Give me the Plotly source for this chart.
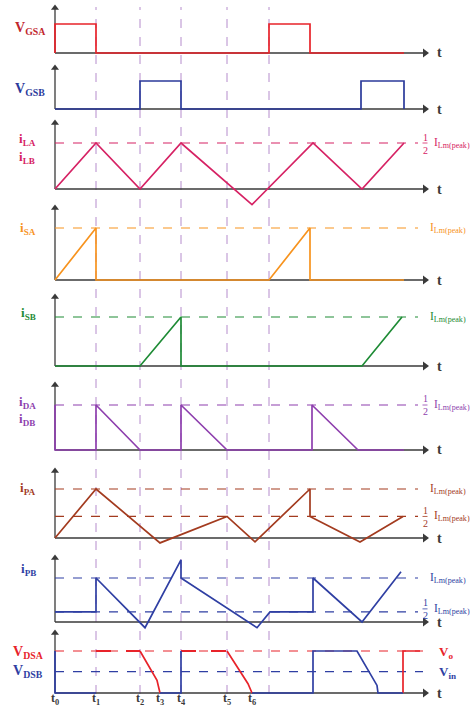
import plotly.graph_objects as go

# ---------------- data ----------------
# gate signals
t_gsa = [0, 0, 41, 41, 214, 214, 255, 255, 349]
v_gsa = [0, 1, 1, 0, 0, 1, 1, 0, 0]
t_gsb = [0, 85, 85, 126, 126, 306, 306, 349, 349]
v_gsb = [0, 0, 1, 1, 0, 0, 1, 1, 0]
# inductor current (units of 1/2 ILm(peak))
t_il = [0, 41, 85, 126, 197, 258, 307, 349]
i_l = [0, 1, 0, 1, -0.34, 1, 0, 1]
# switch currents
t_sa = [0, 41, 41, 214, 255, 255, 349]
i_sa = [0, 1, 0, 0, 1, 0, 0]
t_sb = [0, 85, 126, 126, 307, 347]
i_sb = [0, 0, 1, 0, 0, 1]
# diode currents
t_d = [0, 0, 41, 41, 85, 126, 126, 172, 257, 257, 303, 349]
i_d = [1, 0, 0, 1, 0, 0, 1, 0, 0, 1, 0, 0]
# primary currents
t_pa = [0, 41, 105, 172, 200, 255, 255, 305, 348]
i_pa = [0, 1, -0.1, 0.44, -0.08, 1, 0.44, -0.08, 0.44]
pa_half = 0.44
t_pb = [0, 41, 41, 90, 126, 126, 202, 215, 258, 258, 307, 346]
i_pb = [0.23, 0.23, 1, -0.13, 1.41, 1, -0.13, 0.23, 0.23, 1, 0, 1.14]
pb_half = 0.23
# drain-source voltages (units of Vo)
v_in = 0.51
dsa_on1_t, dsa_on1_v = [41, 85], [1, 1]
dsa_on2_t, dsa_on2_v = [126, 172], [1, 1]
dsa_f1_t, dsa_f1_v = [85, 102, 105], [1, 0.3, 0]
dsa_f2_t, dsa_f2_v = [172, 193, 197], [1, 0.22, 0]
dsa_r_t, dsa_r_v = [348, 348, 365], [0, 1, 1]
dsb1_t, dsb1_v = [0, 0, 41], [1, 0, 0]
dsb2_t, dsb2_v = [105, 126, 126], [0, 0, 1]
dsb3_t, dsb3_v = [197, 258, 258, 302, 322, 323, 348], [0, 0, 1, 1, 0.18, 0, 0]

t_marks = [41, 85, 126, 172, 214]
t_tick_vals = [0, 41, 85, 105, 126, 172, 197]
t_tick_text = ["t<sub>0</sub>", "t<sub>1</sub>", "t<sub>2</sub>", "t<sub>3</sub>",
               "t<sub>4</sub>", "t<sub>5</sub>", "t<sub>6</sub>"]
ref_end = 363
axis_end = 368

# ---------------- layout geometry ----------------
W, H = 470, 707
X0 = 55  # pixel of t0
panels = [
    dict(tip=8, one=24, base=53, bot=58),
    dict(tip=68, one=81, base=109, bot=114),
    dict(tip=123, one=143, base=189, bot=208),
    dict(tip=208, one=228, base=280, bot=285),
    dict(tip=297, one=317, base=366, bot=371),
    dict(tip=385, one=405, base=450, bot=455),
    dict(tip=471, one=489, base=538, bot=546),
    dict(tip=558, one=578, base=622, bot=631),
    dict(tip=633, one=651, base=693, bot=698),
]

RED = "#e8232a"
NAVY = "#2b3a9b"
PINK = "#d62264"
ORANGE = "#f7931e"
GREEN = "#1e8b35"
PURPLE = "#8e3fae"
BROWN = "#a33b1f"
BLUE = "#2f3fa3"
VLINE = "#b58ccc"
AX = "#3a3a3a"
SERIF = "Liberation Serif"

fig = go.Figure()
layout = dict(width=W, height=H, margin=dict(l=0, r=0, t=0, b=0),
              paper_bgcolor="white", plot_bgcolor="rgba(0,0,0,0)", showlegend=False)
annotations = []
shapes = []

def ax_names(k):
    return ("x" if k == 1 else f"x{k}"), ("y" if k == 1 else f"y{k}")

def line(k, x, y, color, width=1.7, dash="solid"):
    xn, yn = ax_names(k)
    fig.add_trace(go.Scatter(x=x, y=y, mode="lines", xaxis=xn, yaxis=yn, hoverinfo="skip",
                             line=dict(color=color, width=width, dash=dash)))

# vertical time markers
for tm in t_marks:
    shapes.append(dict(type="line", xref="x", yref="paper", x0=tm, x1=tm,
                       y0=1 - 694 / H, y1=1 - 7 / H, layer="below",
                       line=dict(color=VLINE, width=1, dash="dash")))

for k, p in enumerate(panels, start=1):
    s = p["base"] - p["one"]
    top = p["tip"] - 4
    rng = [(p["base"] - p["bot"]) / s, (p["base"] - top) / s]
    xn, yn = ax_names(k)
    xkey = "xaxis" if k == 1 else f"xaxis{k}"
    ykey = "yaxis" if k == 1 else f"yaxis{k}"
    layout[xkey] = dict(domain=[0, 1], range=[-X0, W - X0], visible=False, anchor=yn, fixedrange=True)
    layout[ykey] = dict(domain=[1 - p["bot"] / H, 1 - top / H], range=rng, visible=False,
                        anchor=xn, fixedrange=True)
    tipv = (p["base"] - p["tip"]) / s
    # axes with arrow heads
    fig.add_trace(go.Scatter(x=[0, axis_end], y=[0, 0], mode="lines", xaxis=xn, yaxis=yn,
                             hoverinfo="skip", line=dict(color=AX, width=1.3)))
    fig.add_trace(go.Scatter(x=[axis_end + 2], y=[0], mode="markers", xaxis=xn, yaxis=yn,
                             hoverinfo="skip", cliponaxis=False,
                             marker=dict(symbol="triangle-right", size=8, color=AX)))
    fig.add_trace(go.Scatter(x=[0, 0], y=[0, tipv], mode="lines", xaxis=xn, yaxis=yn,
                             hoverinfo="skip", cliponaxis=False, line=dict(color=AX, width=1.3)))
    fig.add_trace(go.Scatter(x=[0], y=[tipv], mode="markers", xaxis=xn, yaxis=yn,
                             hoverinfo="skip", cliponaxis=False,
                             marker=dict(symbol="triangle-up", size=7, color=AX)))
    annotations.append(dict(x=axis_end + 12, y=0, xref=xn, yref=yn, text="<b>t</b>", showarrow=False,
                            xanchor="left", yanchor="middle",
                            font=dict(family=SERIF, size=14, color=AX)))

def ref(k, level, color):
    line(k, [0, ref_end], [level, level], color, width=1.2, dash="dash")

# panel 1, 2
line(1, t_gsa, v_gsa, RED)
line(2, t_gsb, v_gsb, NAVY)
# panel 3
ref(3, 1, PINK)
line(3, t_il, i_l, PINK)
# panel 4
ref(4, 1, ORANGE)
line(4, t_sa, i_sa, ORANGE)
# panel 5
ref(5, 1, GREEN)
line(5, t_sb, i_sb, GREEN)
# panel 6
ref(6, 1, PURPLE)
line(6, t_d, i_d, PURPLE)
# panel 7
ref(7, 1, BROWN)
ref(7, pa_half, BROWN)
line(7, t_pa, i_pa, BROWN)
# panel 8
ref(8, 1, BLUE)
ref(8, pb_half, BLUE)
line(8, t_pb, i_pb, BLUE)
# panel 9
line(9, [0, 368], [1, 1], RED, width=1.2, dash="dash")
line(9, [0, 368], [v_in, v_in], BLUE, width=1.2, dash="dash")
line(9, dsa_on1_t, dsa_on1_v, RED, width=2, dash="longdash")
line(9, dsa_on2_t, dsa_on2_v, RED, width=2, dash="longdash")
line(9, dsa_f1_t, dsa_f1_v, RED)
line(9, dsa_f2_t, dsa_f2_v, RED)
line(9, dsa_r_t, dsa_r_v, RED)
line(9, dsb1_t, dsb1_v, BLUE)
line(9, dsb2_t, dsb2_v, BLUE)
line(9, dsb3_t, dsb3_v, BLUE)

# ---------------- labels ----------------
def ptext(px, py, text, color, size=13, bold=True, xanchor="center"):
    annotations.append(dict(x=px / W, y=1 - py / H, xref="paper", yref="paper", text=
                            (f"<b>{text}</b>" if bold else text), showarrow=False,
                            xanchor=xanchor, yanchor="middle",
                            font=dict(family=SERIF, size=size, color=color)))

ptext(30, 29, "V<sub>GSA</sub>", "#c1272d", 14)
ptext(30, 89, "V<sub>GSB</sub>", NAVY, 14)
ptext(27, 139, "i<sub>LA</sub>", PINK)
ptext(27, 157, "i<sub>LB</sub>", PINK)
ptext(28, 229, "i<sub>SA</sub>", ORANGE)
ptext(28, 313, "i<sub>SB</sub>", GREEN)
ptext(27, 402, "i<sub>DA</sub>", PURPLE)
ptext(27, 419, "i<sub>DB</sub>", PURPLE)
ptext(28, 488, "i<sub>PA</sub>", BROWN)
ptext(28, 569, "i<sub>PB</sub>", BLUE)
ptext(28, 652, "V<sub>DSA</sub>", RED, 14)
ptext(28, 671, "V<sub>DSB</sub>", BLUE, 14)
ptext(446, 652, "V<sub>o</sub>", RED, 13)
ptext(447, 672, "V<sub>in</sub>", BLUE, 13)

def rlabel(k, level, color, half=False, lift=0):
    xn, yn = ax_names(k)
    x_txt = 377 if half else 373
    annotations.append(dict(x=x_txt, y=level, xref=xn, yref=yn, showarrow=False, yshift=lift,
                            text="I<sub>Lm(peak)</sub>", xanchor="left", yanchor="middle",
                            font=dict(family=SERIF, size=11.5, color=color)))
    if half:
        annotations.append(dict(x=370, y=level, xref=xn, yref=yn, showarrow=False, text="1",
                                yshift=6 + lift, xanchor="center", yanchor="middle",
                                font=dict(family=SERIF, size=10, color=color)))
        annotations.append(dict(x=370, y=level, xref=xn, yref=yn, showarrow=False, text="2",
                                yshift=-7 + lift, xanchor="center", yanchor="middle",
                                font=dict(family=SERIF, size=10, color=color)))
        shapes.append(dict(type="line", xref=xn, yref=yn, x0=367.5, x1=372.5,
                           y0=level + lift / (panels[k - 1]["base"] - panels[k - 1]["one"]),
                           y1=level + lift / (panels[k - 1]["base"] - panels[k - 1]["one"]),
                           line=dict(color=color, width=0.8)))

rlabel(3, 1, PINK, half=True)
rlabel(4, 1, ORANGE)
rlabel(5, 1, GREEN)
rlabel(6, 1, PURPLE, half=True)
rlabel(7, 1, BROWN)
rlabel(7, pa_half, BROWN, half=True)
rlabel(8, 1, BLUE)
rlabel(8, pb_half, BLUE, half=True, lift=3)

# time labels under the last panel
for tv, tt in zip(t_tick_vals, t_tick_text):
    annotations.append(dict(x=tv, y=1 - 699 / H, xref="x9", yref="paper", text=f"<b>{tt}</b>",
                            showarrow=False, xanchor="center", yanchor="middle",
                            font=dict(family=SERIF, size=12, color=AX)))

layout["annotations"] = annotations
layout["shapes"] = shapes
fig.update_layout(**layout)
fig.write_html("out.html", config={"displayModeBar": False},
               post_script="document.body.style.margin='0';document.body.style.overflow='hidden';")
